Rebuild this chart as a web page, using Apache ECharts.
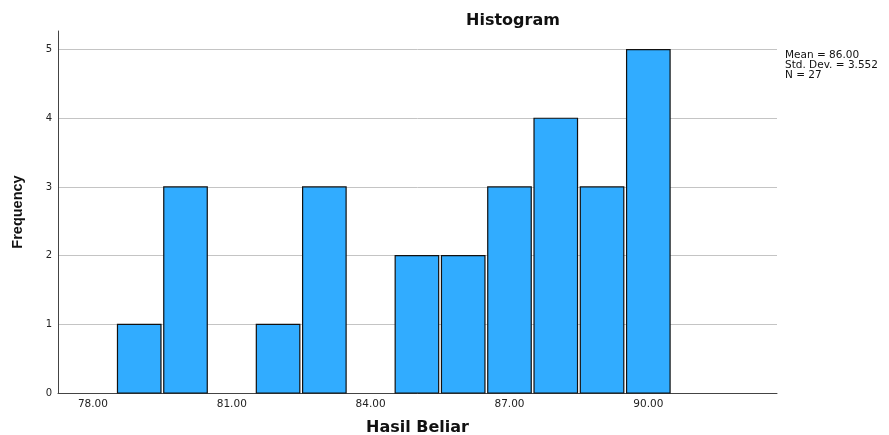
<!DOCTYPE html>
<html>
<head>
<meta charset="utf-8">
<script src="https://cdn.jsdelivr.net/npm/echarts@6/dist/echarts.min.js"></script>
<style>
  html, body { margin: 0; padding: 0; background: #fff; }
  #chart { width: 889px; height: 435px; }
</style>
</head>
<body>
<div id="chart"></div>
<script>
// Bin centres (score) and their counts
const binCentres = [79, 80, 82, 83, 85, 86, 87, 88, 89, 90];
const frequencies = [1, 3, 1, 3, 2, 2, 3, 4, 3, 5];
const xTickValues = [78, 81, 84, 87, 90];
const yTickValues = [0, 1, 2, 3, 4, 5];
const statsLines = ['Mean = 86.00', 'Std. Dev. = 3.552', 'N = 27'];

const WIDE = '"DejaVu Sans", Verdana, sans-serif';
const NARROW = '"Liberation Sans", Arial, sans-serif';
const binWidth = 1;
const barFraction = 0.94;

const chart = echarts.init(document.getElementById('chart'), null, { renderer: 'canvas' });

chart.setOption({
  backgroundColor: '#ffffff',
  animation: false,
  title: {
    text: 'Histogram',
    left: 508,
    top: 8,
    textAlign: 'center',
    textStyle: { fontFamily: WIDE, fontSize: 16, fontWeight: 'bold', color: '#111' }
  },
  graphic: [{
    type: 'text',
    left: 785,
    top: 50,
    style: {
      text: statsLines.join('\n'),
      font: '10.5px ' + WIDE,
      lineHeight: 10,
      fill: '#111'
    }
  }],
  grid: {
    left: 58, right: 112, top: 31, bottom: 42,
    containLabel: false,
    outerBoundsMode: 'none'
  },
  xAxis: {
    type: 'value',
    min: 77.245,
    max: 92.78,
    name: 'Hasil Beliar',
    nameLocation: 'middle',
    nameGap: 27,
    nameTextStyle: { fontFamily: WIDE, fontSize: 16, fontWeight: 'bold', color: '#111' },
    axisLine: { show: true, lineStyle: { color: '#444', width: 1 } },
    axisTick: { show: false, customValues: xTickValues },
    splitLine: { show: false },
    axisLabel: {
      customValues: xTickValues,
      formatter: v => v.toFixed(2),
      fontFamily: WIDE, fontSize: 10.5, color: '#222', margin: 6
    }
  },
  yAxis: {
    type: 'value',
    min: 0,
    max: 5.27,
    name: 'Frequency',
    nameLocation: 'middle',
    nameGap: 33,
    nameRotate: 90,
    nameTextStyle: { fontFamily: NARROW, fontSize: 14.5, fontWeight: 'bold', color: '#111' },
    axisLine: { show: true, lineStyle: { color: '#444', width: 1 } },
    axisTick: { show: false, customValues: yTickValues },
    axisLabel: {
      customValues: yTickValues,
      fontFamily: WIDE, fontSize: 10, color: '#222', margin: 6
    },
    splitLine: { show: true, customValues: yTickValues, lineStyle: { color: '#c4c4c4', width: 1 } }
  },
  series: [{
    type: 'custom',
    data: binCentres.map((c, i) => [c, frequencies[i]]),
    renderItem: function (params, api) {
      const c = api.value(0);
      const f = api.value(1);
      const half = binWidth * barFraction / 2;
      const p0 = api.coord([c - half, f]);
      const p1 = api.coord([c + half, 0]);
      return {
        type: 'rect',
        shape: { x: p0[0], y: p0[1], width: p1[0] - p0[0], height: p1[1] - p0[1] },
        style: { fill: '#31acff', stroke: '#111', lineWidth: 1.2 }
      };
    },
    encode: { x: 0, y: 1 }
  }]
});
</script>
</body>
</html>
